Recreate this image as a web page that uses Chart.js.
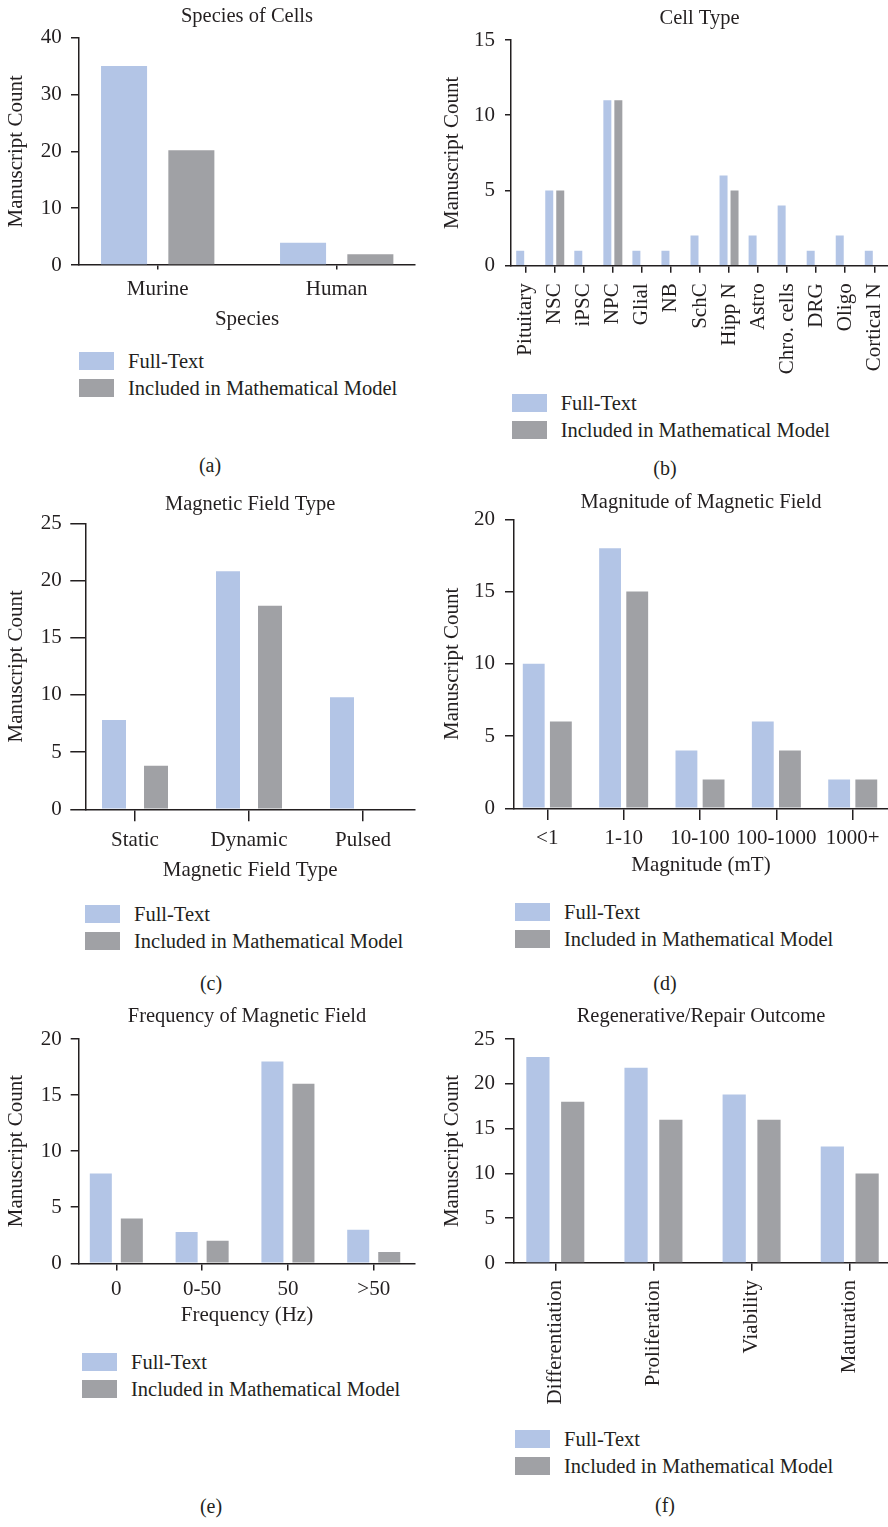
<!DOCTYPE html>
<html>
<head>
<meta charset="utf-8">
<title>Manuscript counts</title>
<script src="https://cdn.jsdelivr.net/npm/chart.js@4.4.1/dist/chart.umd.min.js"></script>
<style>
  body { margin: 0; background: #fff; }
  #page { position: relative; width: 888px; height: 1527px; overflow: hidden;
          font-family: "Liberation Serif", serif; color: #231f20; }
  #page canvas { position: absolute; }
  .key { position: absolute; width: 35px; height: 18px; }
  .txt { position: absolute; font-size: 20.5px; line-height: 24px; white-space: nowrap; }
  .cap { position: absolute; font-size: 20px; line-height: 24px; width: 60px; text-align: center; }
</style>
</head>
<body>
<div id="page"></div>
<script>
// values
const speciesLabels = ['Murine', 'Human'];
const speciesFull = [35, 3.9];
const speciesModel = [20.2, 1.9];
const speciesTicks = [0, 10, 20, 30, 40];

const cellLabels = ['Pituitary', 'NSC', 'iPSC', 'NPC', 'Glial', 'NB', 'SchC', 'Hipp N', 'Astro', 'Chro. cells', 'DRG', 'Oligo', 'Cortical N'];
const cellFull = [1, 5, 1, 11, 1, 1, 2, 6, 2, 4, 1, 2, 1];
const cellModel = [0, 5, 0, 11, 0, 0, 0, 5, 0, 0, 0, 0, 0];
const cellTicks = [0, 5, 10, 15];

const fieldLabels = ['Static', 'Dynamic', 'Pulsed'];
const fieldFull = [7.8, 20.8, 9.8];
const fieldModel = [3.8, 17.8, 0];
const fieldTicks = [0, 5, 10, 15, 20, 25];

const magLabels = ['<1', '1-10', '10-100', '100-1000', '1000+'];
const magFull = [10, 18, 4, 6, 2];
const magModel = [6, 15, 2, 4, 2];
const magTicks = [0, 5, 10, 15, 20];

const freqLabels = ['0', '0-50', '50', '>50'];
const freqFull = [8, 2.8, 18, 3];
const freqModel = [4, 2, 16, 1];
const freqTicks = [0, 5, 10, 15, 20];

const outcomeLabels = ['Differentiation', 'Proliferation', 'Viability', 'Maturation'];
const outcomeFull = [23, 21.8, 18.8, 13];
const outcomeModel = [18, 16, 16, 10];
const outcomeTicks = [0, 5, 10, 15, 20, 25];

const seriesNames = ['Full-Text', 'Included in Mathematical Model'];

const ink = '#231f20';
const fullColor = '#b3c5e6';
const modelColor = '#a0a1a5';

Chart.defaults.font.family = '"Liberation Serif", serif';
Chart.defaults.font.size = 21;
Chart.defaults.font.lineHeight = 1.2;
Chart.defaults.color = ink;

// panel heading, centred over the plot area rather than the whole canvas
const panelTitle = {
  id: 'panelTitle',
  afterDraw(chart, args, opts) {
    const ctx = chart.ctx;
    const area = chart.chartArea;
    ctx.save();
    ctx.font = '20.5px "Liberation Serif", serif';
    ctx.fillStyle = ink;
    ctx.textAlign = 'center';
    ctx.textBaseline = 'middle';
    ctx.fillText(opts.text, (area.left + area.right) / 2, opts.y);
    ctx.restore();
  }
};

const page = document.getElementById('page');

function addDiv(cls, left, top, text, bg) {
  const d = document.createElement('div');
  d.className = cls;
  d.style.left = left + 'px';
  d.style.top = top + 'px';
  if (text) d.textContent = text;
  if (bg) d.style.background = bg;
  page.appendChild(d);
}

function drawPanel(p) {
  const cv = document.createElement('canvas');
  cv.width = p.w;
  cv.height = p.h;
  cv.style.left = p.x + 'px';
  cv.style.top = p.y + 'px';
  page.appendChild(cv);

  const bottom = p.y + p.h;
  const series = [p.full, p.model];
  const colors = [fullColor, modelColor];

  new Chart(cv.getContext('2d'), {
    type: 'bar',
    data: {
      datasets: series.map(function (vals, k) {
        return {
          label: seriesNames[k],
          data: p.labels.map(function (c, i) { return { x: i, y: vals[i] }; }),
          backgroundColor: colors[k],
          borderWidth: 0,
          categoryPercentage: p.catPct,
          barPercentage: p.barPct
        };
      })
    },
    options: {
      responsive: false,
      animation: false,
      layout: { padding: { top: p.plotTop - p.y, right: p.x + p.w - p.right, left: 0, bottom: 0 } },
      plugins: {
        legend: { display: false },
        tooltip: { enabled: false },
        panelTitle: { text: p.title, y: p.titleY - p.y }
      },
      scales: {
        x: {
          type: 'linear',
          offset: false,
          bounds: 'data',
          min: p.xMin,
          max: p.xMax,
          afterBuildTicks: function (s) { s.ticks = p.labels.map(function (c, i) { return { value: i }; }); },
          afterFit: function (s) {
            s.height = bottom - p.plotBottom;
            s.paddingLeft = 0; s.paddingRight = 0;
          },
          ticks: {
            autoSkip: false,
            minRotation: p.rot,
            maxRotation: p.rot,
            padding: p.xPad,
            color: ink,
            callback: function (v) { return p.labels[v]; }
          },
          grid: { drawOnChartArea: false, offset: false, tickLength: p.xTick, color: ink, lineWidth: 1.5 },
          border: { color: ink, width: 1.5 },
          title: {
            display: !!p.xTitle,
            text: p.xTitle || '',
            color: ink,
            padding: { top: 0, bottom: p.xTitle ? bottom - p.xTitleY - 12.6 : 0 }
          }
        },
        y: {
          min: 0,
          max: p.yTicks[p.yTicks.length - 1],
          afterBuildTicks: function (s) { s.ticks = p.yTicks.map(function (v) { return { value: v }; }); },
          afterFit: function (s) {
            s.width = p.axisX - p.x;
            s.paddingTop = 0; s.paddingBottom = 0;
          },
          ticks: { padding: p.yPad, color: ink },
          grid: { drawOnChartArea: false, tickLength: p.yTick, color: ink, lineWidth: 1.5 },
          border: { color: ink, width: 1.5 },
          title: { display: true, text: 'Manuscript Count', color: ink, padding: { top: p.yTitlePad, bottom: 0 } }
        }
      }
    },
    plugins: [panelTitle]
  });

  // legend under each panel
  colors.forEach(function (c, k) {
    const cy = p.legendY + k * 27.3;
    addDiv('key', p.legendX, cy - 9, '', c);
    addDiv('txt', p.legendX + 49, cy - 12, seriesNames[k]);
  });
  addDiv('cap', p.capX - 30, p.capY - 12, p.cap);
}

drawPanel({
  title: 'Species of Cells', labels: speciesLabels, full: speciesFull, model: speciesModel, yTicks: speciesTicks,
  x: 0, y: 0, w: 440, h: 340, axisX: 79, right: 415, plotTop: 37.7, plotBottom: 265, titleY: 16.7,
  xTitle: 'Species', xTitleY: 319.3, xTick: 4.5, xPad: 7, rot: 0, yTick: 8, yPad: 9.3, yTitlePad: 4.2,
  xMin: -0.4397, xMax: 1.4374, catPct: 0.752, barPct: 0.684,
  legendX: 79, legendY: 360.5, cap: '(a)', capX: 210, capY: 465
});

drawPanel({
  title: 'Cell Type', labels: cellLabels, full: cellFull, model: cellModel, yTicks: cellTicks,
  x: 440, y: 0, w: 448, h: 385, axisX: 511, right: 888, plotTop: 40, plotBottom: 265.7, titleY: 18.8,
  xTitle: null, xTick: 7, xPad: 10.6, rot: 90, yTick: 6, yPad: 10, yTitlePad: 0,
  xMin: -0.506, xMax: 12.472, catPct: 0.757, barPct: 0.727,
  legendX: 511.7, legendY: 403, cap: '(b)', capX: 665, capY: 468
});

drawPanel({
  title: 'Magnetic Field Type', labels: fieldLabels, full: fieldFull, model: fieldModel, yTicks: fieldTicks,
  x: 0, y: 485, w: 440, h: 400, axisX: 85.3, right: 415, plotTop: 523.3, plotBottom: 809.3, titleY: 505,
  xTitle: 'Magnetic Field Type', xTitleY: 870, xTick: 12, xPad: 7, rot: 0, yTick: 15, yPad: 8.6, yTitlePad: 4.2,
  xMin: -0.436, xMax: 2.456, catPct: 0.737, barPct: 0.571,
  legendX: 85, legendY: 913.5, cap: '(c)', capX: 211, capY: 983
});

drawPanel({
  title: 'Magnitude of Magnetic Field', labels: magLabels, full: magFull, model: magModel, yTicks: magTicks,
  x: 440, y: 485, w: 448, h: 400, axisX: 514, right: 888, plotTop: 519.3, plotBottom: 808.3, titleY: 503,
  xTitle: 'Magnitude (mT)', xTitleY: 865.5, xTick: 11.7, xPad: 5.5, rot: 0, yTick: 9, yPad: 10, yTitlePad: 0,
  xMin: -0.436, xMax: 4.462, catPct: 0.711, barPct: 0.805,
  legendX: 515, legendY: 912, cap: '(d)', capX: 665, capY: 983
});

drawPanel({
  title: 'Frequency of Magnetic Field', labels: freqLabels, full: freqFull, model: freqModel, yTicks: freqTicks,
  x: 0, y: 995, w: 440, h: 340, axisX: 79, right: 415, plotTop: 1039, plotBottom: 1263.3, titleY: 1017,
  xTitle: 'Frequency (Hz)', xTitleY: 1315, xTick: 7.3, xPad: 6.2, rot: 0, yTick: 8.3, yPad: 9, yTitlePad: 4.2,
  xMin: -0.435, xMax: 3.481, catPct: 0.723, barPct: 0.71,
  legendX: 82, legendY: 1361.5, cap: '(e)', capX: 211, capY: 1506
});

drawPanel({
  title: 'Regenerative/Repair Outcome', labels: outcomeLabels, full: outcomeFull, model: outcomeModel, yTicks: outcomeTicks,
  x: 440, y: 995, w: 448, h: 420, axisX: 514, right: 888, plotTop: 1039, plotBottom: 1263, titleY: 1017,
  xTitle: null, xTick: 7.7, xPad: 9.3, rot: 90, yTick: 9, yPad: 10, yTitlePad: 0,
  xMin: -0.421, xMax: 3.39, catPct: 0.709, barPct: 0.667,
  legendX: 515, legendY: 1439, cap: '(f)', capX: 665, capY: 1505
});
</script>
</body>
</html>
